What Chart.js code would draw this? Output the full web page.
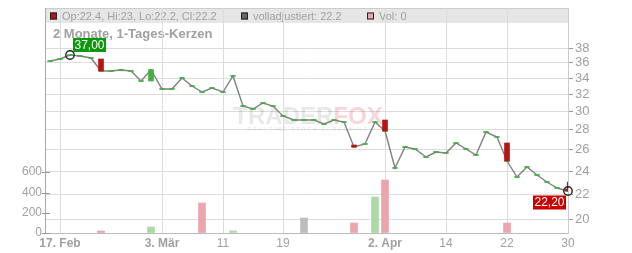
<!DOCTYPE html>
<html>
<head>
<meta charset="utf-8">
<script src="https://cdn.jsdelivr.net/npm/chart.js@4"></script>
<style>
  html, body { margin: 0; padding: 0; background: #fff; }
  #wrap { width: 632px; height: 253px; }
</style>
</head>
<body>
<div id="wrap"><canvas id="chart" width="632" height="253"></canvas></div>
<script>
// trading days, dd.mm
const days = [
  '16.02', '17.02', '18.02', '19.02', '20.02', '23.02', '24.02', '25.02', '26.02', '27.02',
  '02.03', '03.03', '04.03', '05.03', '06.03', '09.03', '10.03', '11.03', '12.03', '13.03',
  '16.03', '17.03', '18.03', '19.03', '20.03', '23.03', '24.03', '25.03', '26.03', '27.03',
  '30.03', '31.03', '01.04', '02.04', '07.04', '08.04', '09.04', '10.04', '13.04', '14.04',
  '15.04', '16.04', '17.04', '20.04', '21.04', '22.04', '23.04', '24.04', '27.04', '28.04',
  '29.04', '30.04'
];
const monthNames = { '02': 'Feb', '03': 'Mär', '04': 'Apr' };

const closes = [
  36.2, 36.45, 37.0, 36.8, 36.6, 34.9, 34.8, 34.95, 34.85, 33.6,
  34.95, 32.6, 32.6, 33.9, 32.95, 32.2, 32.75, 32.2, 34.2, 30.55,
  30.2, 30.95, 30.55, 29.4, 29.0, 29.0, 29.0, 28.6, 29.0, 28.8,
  26.2, 26.55, 28.8, 27.8, 24.25, 26.2, 26.0, 25.25, 25.75, 25.65,
  26.6, 26.0, 25.45, 27.75, 27.25, 24.9, 23.45, 24.35, 23.6, 23.0,
  22.45, 22.2
];
const opens = [
  36.2, 36.45, 37.0, 36.8, 36.6, 36.5, 34.8, 34.95, 34.85, 33.6,
  33.5, 32.6, 32.6, 33.9, 32.95, 32.2, 32.75, 32.2, 34.2, 30.55,
  30.2, 30.95, 30.55, 29.4, 29.0, 29.0, 29.0, 28.6, 29.0, 28.8,
  26.4, 26.55, 28.8, 29.0, 24.25, 26.2, 26.0, 25.25, 25.75, 25.65,
  26.6, 26.0, 25.45, 27.75, 27.25, 26.65, 23.45, 24.35, 23.6, 23.0,
  22.45, 22.4
];
const volumes = [
  0, 0, 0, 0, 0, 15, 0, 0, 0, 0,
  62, 0, 0, 0, 0, 300, 0, 0, 15, 0,
  0, 0, 0, 0, 0, 150, 0, 0, 0, 0,
  100, 0, 360, 520, 0, 0, 0, 0, 0, 0,
  0, 0, 0, 0, 0, 100, 0, 0, 0, 0,
  0, 0
];
const lastHigh = 23;

const tickIdx = [1, 11, 17, 23, 33, 39, 45, 51];
const priceTicks = [20, 22, 24, 26, 28, 30, 32, 34, 36, 38];
const volTicks = [0, 200, 400, 600];

const FONT = '"Liberation Sans", Arial, sans-serif';
const GREY = '#a0a0a0';
const RED = '#b81414';
const GREEN = '#44ad44';
const n = closes.length - 1;

const month = (i) => days[i].split('.')[1];
const isFirstOfMonth = (i) => tickIdx.find((t) => month(t) === month(i)) === i;
const tickLabel = (i) => {
  const d = String(+days[i].split('.')[0]);
  return isFirstOfMonth(i) ? d + '. ' + monthNames[month(i)] : d;
};
const fmt = (v) => v.toFixed(2).replace('.', ',');

const candleColors = closes.map((c, i) => (c >= opens[i] ? GREEN : RED));
const volColors = volumes.map((v, i) => {
  if (i === 0 || closes[i] === closes[i - 1]) return '#bdbdbd';
  return closes[i] > closes[i - 1] ? '#a9dba2' : '#eca5ad';
});

const noPad = (s) => {
  s.paddingTop = 0;
  s.paddingBottom = 0;
  s.paddingLeft = 0;
  s.paddingRight = 0;
};

const decor = {
  id: 'decor',
  beforeDraw(chart) {
    const { ctx, chartArea: a } = chart;
    ctx.save();
    ctx.fillStyle = '#e6e6e6';
    ctx.fillRect(a.left, a.top, a.right - a.left, 15);
    ctx.strokeStyle = '#cccccc';
    ctx.lineWidth = 1;
    ctx.beginPath();
    ctx.moveTo(a.left, a.top + 0.5);
    ctx.lineTo(a.right, a.top + 0.5);
    ctx.stroke();

    const items = [
      [RED, 'Op:' + opens[n] + ', Hi:' + lastHigh + ', Lo:' + Math.min(opens[n], closes[n]) + ', Cl:' + closes[n], 50],
      ['#666666', 'volladjustiert: ' + closes[n], 241],
      ['#eca5ad', 'Vol: ' + volumes[n], 367]
    ];
    ctx.font = '11px ' + FONT;
    items.forEach(([c, t, x]) => {
      ctx.fillStyle = c;
      ctx.fillRect(x, 12.5, 7, 7);
      ctx.strokeStyle = '#222';
      ctx.strokeRect(x + 0.5, 13, 6, 6);
      ctx.fillStyle = GREY;
      ctx.fillText(t, x + 12, 19.5);
    });

    ctx.font = 'bold 13px ' + FONT;
    ctx.fillStyle = GREY;
    ctx.fillText('2 Monate, 1-Tages-Kerzen', 53, 38);
    ctx.restore();
  },
  beforeDatasetsDraw(chart) {
    const { ctx, chartArea: a, scales } = chart;
    ctx.save();
    // volume tick marks also reach a few px into the plot
    ctx.strokeStyle = '#999';
    ctx.lineWidth = 1;
    volTicks.forEach((v) => {
      const y = Math.round(scales.yVol.getPixelForValue(v)) + 0.5;
      ctx.beginPath();
      ctx.moveTo(a.left, y);
      ctx.lineTo(a.left + 5, y);
      ctx.stroke();
    });

    ctx.font = 'bold 24px ' + FONT;
    const w1 = ctx.measureText('TRADER').width;
    const w2 = ctx.measureText('FOX').width;
    const cx = 308;
    const x0 = cx - (w1 + w2) / 2;
    ctx.fillStyle = 'rgba(0,0,0,0.09)';
    ctx.fillText('TRADER', x0, 124);
    ctx.fillStyle = 'rgba(225,40,60,0.2)';
    ctx.fillText('FOX', x0 + w1, 124);
    ctx.font = 'bold 6px ' + FONT;
    ctx.letterSpacing = '1.3px';
    ctx.textAlign = 'center';
    ctx.fillStyle = 'rgba(0,0,0,0.07)';
    ctx.fillText('REALTIME STOCK SCREENING', cx, 131);
    ctx.restore();
  },
  afterDatasetsDraw(chart) {
    const { ctx, scales } = chart;
    const hi = closes.indexOf(Math.max(...closes));
    const marks = [
      { i: hi, bg: '#0a990a', dx: 3, dy: -17, h: 14 },
      { i: n, bg: '#cc0000', dx: -35, dy: 4.5, h: 14 }
    ];
    ctx.save();
    marks.forEach((m) => {
      const px = scales.x.getPixelForValue(m.i);
      const py = scales.yPrice.getPixelForValue(closes[m.i]);
      ctx.strokeStyle = '#222';
      ctx.lineWidth = 1.4;
      ctx.beginPath();
      ctx.arc(px, py, 4.2, 0, Math.PI * 2);
      ctx.stroke();
      const txt = fmt(closes[m.i]);
      ctx.font = '12px ' + FONT;
      const w = ctx.measureText(txt).width + 3;
      ctx.fillStyle = m.bg;
      ctx.fillRect(px + m.dx, py + m.dy, w, m.h);
      ctx.fillStyle = '#fff';
      ctx.textBaseline = 'middle';
      ctx.fillText(txt, px + m.dx + 1.5, py + m.dy + m.h / 2 + 0.5);
    });
    ctx.restore();
  }
};

const xy = (arr) => arr.map((v, i) => ({ x: i, y: v }));

new Chart(document.getElementById('chart'), {
  type: 'bar',
  data: {
    datasets: [
      {
        type: 'bar',
        data: closes.map((c, i) => ({ x: i, y: [opens[i], c] })),
        yAxisID: 'yPrice',
        backgroundColor: candleColors,
        barThickness: 5,
        grouped: false,
        order: 0
      },
      {
        type: 'bar',
        data: [{ x: n, y: [Math.max(opens[n], closes[n]), lastHigh] }],
        yAxisID: 'yPrice',
        backgroundColor: RED,
        barThickness: 1.5,
        grouped: false,
        order: 1
      },
      {
        type: 'line',
        data: xy(closes),
        yAxisID: 'yPrice',
        borderColor: '#808080',
        borderWidth: 1.4,
        tension: 0,
        pointStyle: 'line',
        pointRadius: 2.5,
        pointBorderWidth: 1.6,
        pointBorderColor: GREEN,
        order: 2
      },
      {
        type: 'bar',
        // days without turnover get no bar at all
        data: volumes.map((v, i) => ({ x: i, y: v > 0 ? v : null })),
        yAxisID: 'yVol',
        backgroundColor: volColors,
        barThickness: 7,
        grouped: false,
        order: 3
      }
    ]
  },
  options: {
    responsive: false,
    animation: false,
    devicePixelRatio: 1,
    layout: { padding: { top: 8, left: 0, right: 0, bottom: 0 } },
    plugins: { legend: { display: false }, tooltip: { enabled: false } },
    scales: {
      x: {
        type: 'linear',
        min: -0.49,
        max: 51.04,
        offset: false,
        alignToPixels: true,
        afterBuildTicks: (s) => { s.ticks = tickIdx.map((v) => ({ value: v })); },
        afterFit: (s) => { s.height = 20; noPad(s); },
        grid: { color: '#dcdcdc', drawTicks: false, offset: false },
        border: { color: '#bbbbbb' },
        ticks: {
          autoSkip: false,
          maxRotation: 0,
          padding: 3,
          color: GREY,
          font: (c) => ({
            family: FONT,
            size: 12,
            weight: c.tick && isFirstOfMonth(c.tick.value) ? 'bold' : 'normal'
          }),
          callback: (v) => tickLabel(v)
        }
      },
      yPrice: {
        type: 'logarithmic',
        position: 'right',
        min: 19,
        max: 44.1,
        alignToPixels: true,
        afterBuildTicks: (s) => { s.ticks = priceTicks.map((v) => ({ value: v })); },
        afterFit: (s) => { s.width = 64; noPad(s); },
        grid: { color: '#dcdcdc', tickLength: 5, tickColor: '#999' },
        border: { color: '#cccccc' },
        ticks: {
          padding: 2,
          color: GREY,
          font: { family: FONT, size: 13 },
          callback: (v) => String(v)
        }
      },
      yVol: {
        type: 'linear',
        position: 'left',
        min: 0,
        max: 2228,
        alignToPixels: true,
        afterBuildTicks: (s) => { s.ticks = volTicks.map((v) => ({ value: v })); },
        afterFit: (s) => { s.width = 45; noPad(s); },
        grid: { drawOnChartArea: false, tickLength: 3, tickColor: '#999' },
        border: { color: '#aaaaaa' },
        ticks: {
          padding: 0,
          color: GREY,
          font: { family: FONT, size: 12 },
          callback: (v) => String(v)
        }
      }
    }
  },
  plugins: [decor]
});
</script>
</body>
</html>
